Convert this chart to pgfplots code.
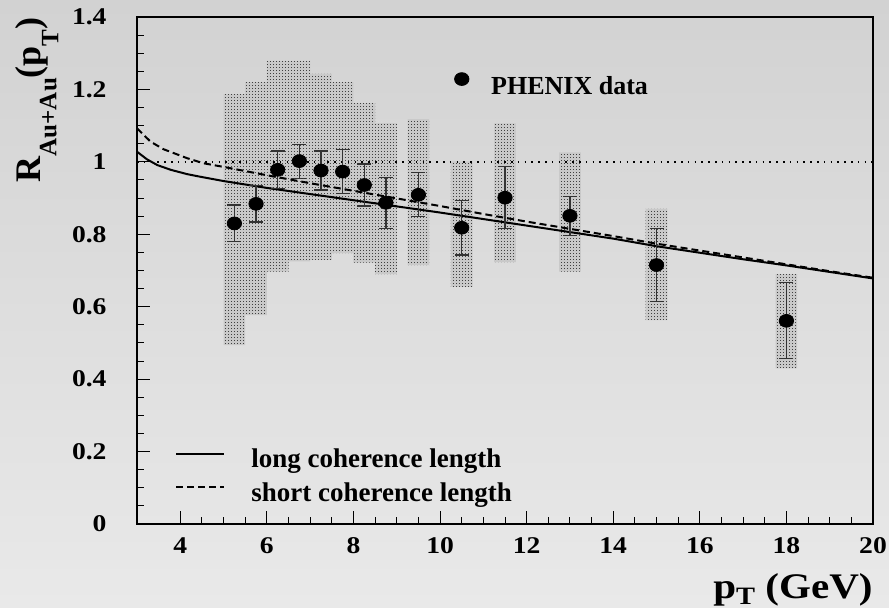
\documentclass[border=0pt]{standalone}
\usepackage{fontspec}
\setmainfont{Liberation Serif}
\usepackage{pgfplots}
\pgfplotsset{compat=1.18}
\usetikzlibrary{patterns}
\pgfdeclarepatternformonly{finedots}{\pgfpointorigin}{\pgfpoint{1.5pt}{1.5pt}}{\pgfpoint{1.5pt}{1.5pt}}{\pgfpathrectangle{\pgfpointorigin}{\pgfpoint{0.6pt}{0.6pt}}\pgfusepath{fill}}
\definecolor{bgtop}{RGB}{210,210,210}
\definecolor{bgbot}{RGB}{233,233,233}

\pgfplotstableread{
x    y      e
5.25 0.830  0.051
5.75 0.884  0.050
6.25 0.978  0.052
6.75 1.002  0.047
7.25 0.976  0.054
7.75 0.973  0.060
8.25 0.936  0.058
8.75 0.887  0.070
9.5  0.909  0.061
10.5 0.818  0.075
11.5 0.901  0.086
13   0.851  0.054
15   0.715  0.101
18   0.561  0.105
}\phenix

\begin{document}
\begin{tikzpicture}
\useasboundingbox (-68.5pt,-42pt) rectangle (376pt,262pt);
\shade[top color=bgtop, bottom color=bgbot] (-68.5pt,-42pt) rectangle (376pt,262pt);
\begin{axis}[
  at={(0pt,0pt)}, anchor=south west,
  scale only axis, width=368pt, height=253.5pt,
  xmin=3, xmax=20, ymin=0, ymax=1.4,
  xtick={4,6,8,10,12,14,16,18,20},
  ytick={0,0.2,0.4,0.6,0.8,1,1.2,1.4},
  minor x tick num=3, minor y tick num=3,
  tick align=inside, tick pos=left,
  major tick length=6.5pt, minor tick length=3.5pt,
  every tick/.style={black, line width=0.5pt},
  axis line style={line width=1pt},
  /pgf/number format/assume math mode=true,
  tick label style={font=\fontsize{12}{14}\selectfont\bfseries},
  yticklabel style={inner sep=0pt, anchor=east, xshift=-15pt, xscale=1.15},
  xticklabel style={inner sep=0pt, anchor=north, yshift=-6.5pt, xscale=1.15},
  xlabel={p\raisebox{-3pt}{\fontsize{12.5}{14}\selectfont T} (GeV)},
  xlabel style={at={(rel axis cs:1,0)}, anchor=north east, inner sep=0pt, yshift=-24.5pt, xscale=1.14, font=\fontsize{18}{21}\selectfont\bfseries},
  ylabel={R\raisebox{-8pt}{\fontsize{12.5}{14}\selectfont Au+Au}(p\raisebox{-9pt}{\fontsize{12.5}{14}\selectfont T})},
  ylabel style={at={(axis description cs:-0.1359,1)}, anchor=east, inner sep=0pt, font=\fontsize{18}{21}\selectfont\bfseries},
  legend cell align=left,
  legend image code/.code={\draw[#1] (0pt,3pt) -- (24pt,3pt);},
  legend style={at={(axis description cs:0.0516,0.038)}, anchor=south west,
    draw=none, fill=none, inner sep=0pt, column sep=13pt, row sep=6pt,
    font=\fontsize{13.5}{15}\selectfont\bfseries, nodes={inner sep=0pt}},
]
% systematic bands
\addplot[forget plot, draw=none, fill=black!21,
  postaction={pattern=finedots, pattern color=black!75},
  unbounded coords=jump] coordinates {
  (5.0,0.494) (5.0,1.187) (5.5,1.187) (5.5,0.494) (nan,nan)
  (5.5,0.577) (5.5,1.220) (6.0,1.220) (6.0,0.577) (nan,nan)
  (6.0,0.697) (6.0,1.279) (6.5,1.279) (6.5,0.697) (nan,nan)
  (6.5,0.725) (6.5,1.279) (7.0,1.279) (7.0,0.725) (nan,nan)
  (7.0,0.729) (7.0,1.243) (7.5,1.243) (7.5,0.729) (nan,nan)
  (7.5,0.748) (7.5,1.220) (8.0,1.220) (8.0,0.748) (nan,nan)
  (8.0,0.722) (8.0,1.162) (8.5,1.162) (8.5,0.722) (nan,nan)
  (8.5,0.690) (8.5,1.107) (9.0,1.107) (9.0,0.690) (nan,nan)
  (9.25,0.715) (9.25,1.118) (9.75,1.118) (9.75,0.715) (nan,nan)
  (10.25,0.655) (10.25,1.001) (10.75,1.001) (10.75,0.655) (nan,nan)
  (11.25,0.723) (11.25,1.106) (11.75,1.106) (11.75,0.723) (nan,nan)
  (12.75,0.697) (12.75,1.026) (13.25,1.026) (13.25,0.697) (nan,nan)
  (14.75,0.563) (14.75,0.870) (15.25,0.870) (15.25,0.563) (nan,nan)
  (17.75,0.430) (17.75,0.690) (18.25,0.690) (18.25,0.430)
};
% reference line
\addplot[forget plot, black, line width=0.8pt, dash pattern=on 0.8pt off 2.6pt] coordinates {(3,1) (20,1)};
% long coherence length
\addplot[black, line width=1pt] coordinates {
  (3,1.028) (3.23,1.007) (3.47,0.991) (3.78,0.978) (4.16,0.966) (4.5,0.958)
  (5,0.947) (6,0.928) (7,0.911) (8,0.894) (9,0.877) (10,0.860) (11,0.842)
  (12,0.824) (13,0.806) (14,0.788) (15,0.767) (16,0.749) (17,0.731)
  (18,0.714) (19,0.696) (20,0.678)};
\addlegendentry{long coherence length}
% short coherence length
\addplot[black, line width=1pt, dash pattern=on 3.5pt off 2pt] coordinates {
  (3,1.093) (3.15,1.075) (3.31,1.056) (3.61,1.035) (4.16,1.010) (4.54,0.996)
  (5,0.986) (6,0.963) (7,0.941) (8,0.920) (9,0.899) (10,0.878) (11,0.856)
  (12,0.835) (13,0.815) (14,0.795) (15,0.774) (16,0.755) (17,0.736)
  (18,0.717) (19,0.698) (20,0.680)};
\addlegendentry{short coherence length}
% PHENIX data
\addplot[forget plot, only marks, mark=*, mark size=3.2pt,
  mark options={black, fill=black, xscale=1.12},
  error bars/.cd, y dir=both, y explicit,
  error bar style={black!80, line width=0.6pt},
  error mark options={rotate=90, mark size=3.5pt, black!80, line width=0.6pt}]
  table[x=x, y=y, y error=e] {\phenix};
\end{axis}
\begin{axis}[
  at={(0pt,0pt)}, anchor=south west,
  scale only axis, width=368pt, height=253.5pt,
  xmin=3, xmax=20, ymin=0, ymax=1.4, hide axis,
  legend image code/.code={\fill[black] (3.6pt,4pt) ellipse [x radius=3.6pt, y radius=3.2pt];},
  legend style={at={(axis description cs:0.4304,0.866)}, anchor=west,
    draw=none, fill=none, inner sep=0pt, column sep=10.9pt,
    font=\fontsize{13}{15}\selectfont\bfseries, nodes={inner sep=0pt}},
]
\addlegendimage{black}
\addlegendentry{PHENIX data}
\end{axis}
\end{tikzpicture}
\end{document}
